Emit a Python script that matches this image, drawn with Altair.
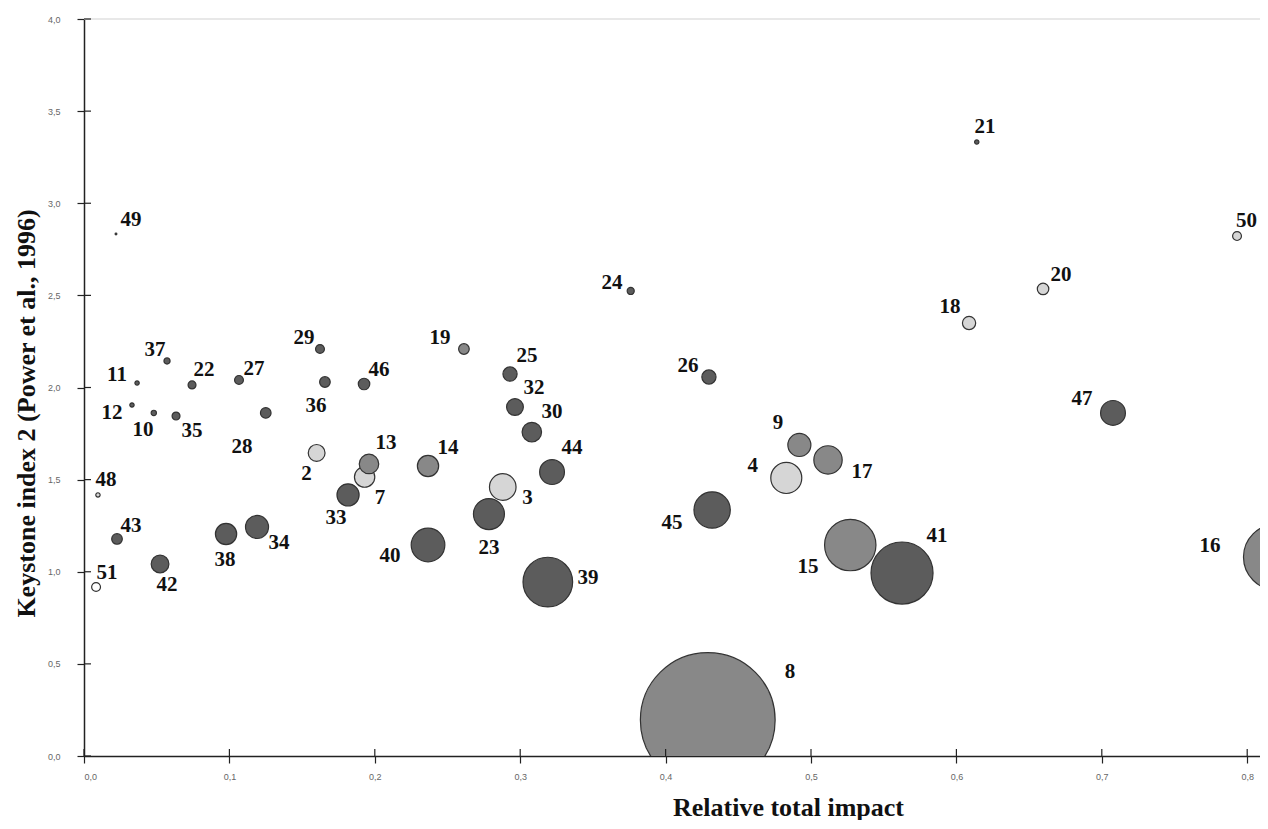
import altair as alt
import pandas as pd

# ---- data ----
ids = [2, 3, 4, 7, 8, 9, 10, 11, 12, 13, 14, 15, 16, 17, 18, 19, 20, 21, 22, 23,
       24, 25, 26, 27, 28, 29, 30, 32, 33, 34, 35, 36, 37, 38, 39, 40, 41, 42, 43,
       44, 45, 46, 47, 48, 49, 50, 51]
impact = [0.160, 0.288, 0.483, 0.193, 0.429, 0.492, 0.048, 0.0365, 0.033, 0.196,
          0.2366, 0.527, 0.820, 0.5117, 0.6087, 0.2613, 0.6596, 0.614, 0.0743, 0.2785,
          0.376, 0.293, 0.4298, 0.1066, 0.125, 0.1623, 0.308, 0.2964, 0.1816, 0.119,
          0.0633, 0.1657, 0.0571, 0.0977, 0.319, 0.2366, 0.5626, 0.0523, 0.0227,
          0.3219, 0.432, 0.1926, 0.7077, 0.0096, 0.022, 0.793, 0.0083]
keystone = [1.645, 1.46, 1.509, 1.514, 0.195, 1.688, 1.862, 2.024, 1.905, 1.585,
            1.574, 1.145, 1.080, 1.607, 2.350, 2.209, 2.535, 3.332, 2.014, 1.313,
            2.524, 2.073, 2.057, 2.041, 1.862, 2.209, 1.758, 1.894, 1.417, 1.243,
            1.845, 2.030, 2.144, 1.205, 0.944, 1.145, 0.993, 1.042, 1.178,
            1.541, 1.335, 2.019, 1.862, 1.417, 2.833, 2.822, 0.917]
biomass = [0.90, 2.25, 3.06, 1.32, 57.8, 1.69, 0.09, 0.06, 0.06, 1.21,
           1.44, 8.41, 13.7, 2.56, 0.56, 0.36, 0.42, 0.06, 0.20, 3.06,
           0.16, 0.64, 0.64, 0.25, 0.36, 0.25, 1.21, 0.90, 1.56, 1.69,
           0.20, 0.36, 0.12, 1.44, 7.84, 3.61, 12.25, 1.00, 0.36,
           1.96, 4.20, 0.42, 1.96, 0.06, 0.01, 0.25, 0.25]
group = ["light", "light", "light", "light", "medium", "medium", "dark", "dark", "dark", "medium",
         "medium", "medium", "medium", "medium", "light", "medium", "light", "dark", "dark", "dark",
         "dark", "dark", "dark", "dark", "dark", "dark", "dark", "dark", "dark", "dark",
         "dark", "dark", "dark", "dark", "dark", "dark", "dark", "dark", "dark",
         "dark", "dark", "dark", "dark", "light", "dark", "light", "white"]
label_x = [0.153, 0.305, 0.460, 0.2036, 0.4856, 0.4773, 0.0406, 0.0227, 0.0193, 0.2077,
           0.2503, 0.498, 0.7744, 0.535, 0.5956, 0.2448, 0.672, 0.6197, 0.0825, 0.2785,
           0.3631, 0.3047, 0.4154, 0.1169, 0.1087, 0.1513, 0.3219, 0.3095, 0.1733, 0.1341,
           0.0743, 0.1596, 0.0488, 0.097, 0.3466, 0.2105, 0.5867, 0.0571, 0.0323,
           0.3356, 0.4044, 0.2029, 0.6864, 0.0151, 0.0323, 0.7995, 0.0158]
label_y = [1.53, 1.40, 1.574, 1.40, 0.456, 1.807, 1.769, 2.068, 1.862, 1.699,
           1.672, 1.026, 1.140, 1.541, 2.437, 2.269, 2.611, 3.414, 2.095, 1.129,
           2.567, 2.171, 2.117, 2.100, 1.677, 2.269, 1.867, 1.997, 1.292, 1.156,
           1.764, 1.900, 2.204, 1.064, 0.966, 1.085, 1.194, 0.928, 1.248,
           1.672, 1.265, 2.095, 1.938, 1.498, 2.909, 2.904, 0.993]

x_ticks = [0.0, 0.1, 0.2, 0.3, 0.4, 0.5, 0.6, 0.7, 0.8]
y_ticks = [0.0, 0.5, 1.0, 1.5, 2.0, 2.5, 3.0, 3.5, 4.0]
group_names = ["dark", "medium", "light", "white"]
group_colors = ["#5c5c5c", "#888888", "#d6d6d6", "#ffffff"]

df = pd.DataFrame({"id": ids, "x": impact, "y": keystone, "biomass": biomass,
                   "group": group, "lx": label_x, "ly": label_y})
df = df.sort_values("biomass", ascending=False)

W, H = 1176, 737
X_MAX = 0.8088

label_expr = "replace(format(datum.value, '.1f'), '.', ',')"
xscale = alt.Scale(domain=[0, X_MAX], nice=False, zero=False)
yscale = alt.Scale(domain=[0, 4], nice=False)

common_axis = dict(grid=False, domainColor="#222", domainWidth=1.5, tickColor="#222",
                   tickWidth=1.2, tickSize=7, labelFont="Liberation Sans", labelFontSize=9,
                   labelColor="#666", labelExpr=label_expr, titleFont="Liberation Serif",
                   titleFontWeight="bold", titleFontSize=26, titleColor="#111")

xaxis = alt.Axis(values=x_ticks, title="Relative total impact", labelPadding=9,
                 titleX=704, titleY=59, titleBaseline="alphabetic", titleAlign="center",
                 **common_axis)
yaxis = alt.Axis(values=y_ticks, title="Keystone index 2 (Power et al., 1996)", labelPadding=17,
                 titleX=-58, titleY=394, titleBaseline="middle", titleAlign="center",
                 **common_axis)


def X(field):
    return alt.X(field, type="quantitative", scale=xscale, axis=xaxis)


def Y(field):
    return alt.Y(field, type="quantitative", scale=yscale, axis=yaxis)


top_line = alt.Chart(pd.DataFrame({"v": [4.0]})).mark_rule(
    color="#e8e8e8", strokeWidth=2).encode(y=Y("v"), x=alt.value(0), x2=alt.value(W))

bubbles = alt.Chart(df).mark_circle(
    clip=True, opacity=1, stroke="#333", strokeWidth=1.2).encode(
    x=X("x"), y=Y("y"),
    size=alt.Size("biomass:Q", scale=alt.Scale(type="linear", domain=[0, 60],
                                               range=[0, 60 * 100 * 3.14159]), legend=None),
    color=alt.Color("group:N", scale=alt.Scale(domain=group_names, range=group_colors),
                    legend=None),
)

labels = alt.Chart(df).mark_text(
    font="Liberation Serif", fontWeight="bold", fontSize=21, color="#111",
    align="center", baseline="middle").encode(x=X("lx"), y=Y("ly"), text="id:N")

ytick_in = alt.Chart(pd.DataFrame({"v": y_ticks})).mark_rule(
    color="#222", strokeWidth=1.2).encode(y=Y("v"), x=alt.value(0), x2=alt.value(7))
xtick_in = alt.Chart(pd.DataFrame({"v": x_ticks})).mark_rule(
    color="#222", strokeWidth=1.2).encode(x=X("v"), y=alt.value(H), y2=alt.value(H - 7))

chart = alt.layer(top_line, bubbles, labels, ytick_in, xtick_in).properties(
    width=W, height=H,
    autosize=alt.AutoSizeParams(type="none"),
    padding={"left": 76, "top": 11, "right": 0, "bottom": 64},
    background="white",
).configure_view(stroke=None)

chart.save("out.html", embed_options={"renderer": "svg", "actions": False})
